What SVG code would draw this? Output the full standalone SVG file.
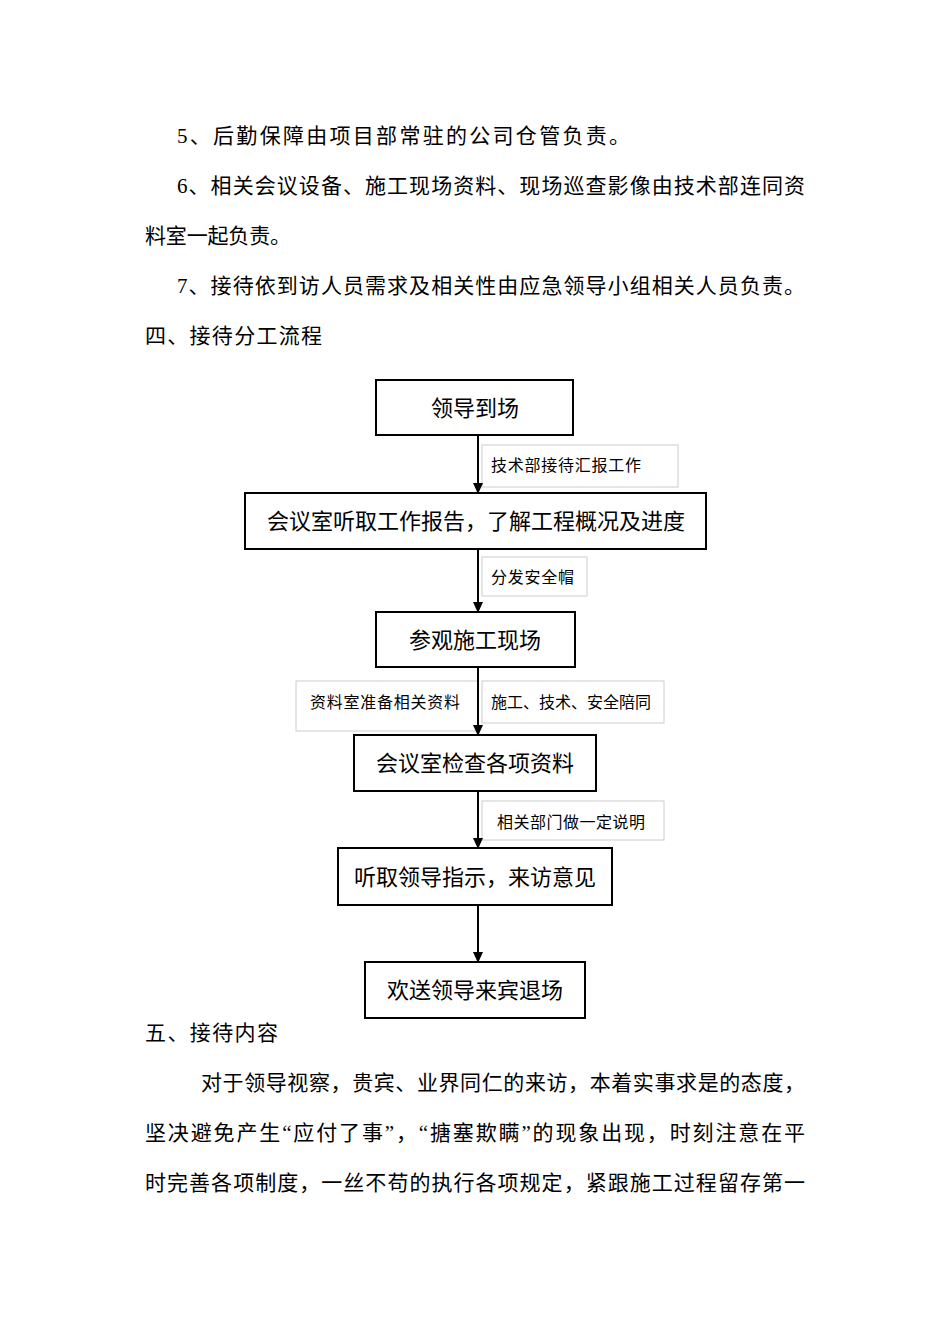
<svg xmlns="http://www.w3.org/2000/svg" width="950" height="1344" viewBox="0 0 950 1344">
<style>
text{font-family:"Liberation Serif","Noto Sans CJK SC",serif;fill:#000}
.b{font-size:21px}
.n rect{fill:#fff;stroke:#000;stroke-width:2}
.n text{font-size:22px;text-anchor:middle}
.l rect{fill:#fff;stroke:#ccc;stroke-width:1}
.l text{font-size:16px}
.c line{stroke:#000;stroke-width:2;marker-end:url(#a)}
</style>
<defs><marker id="a" markerWidth="12" markerHeight="12" refX="10" refY="5" orient="auto" markerUnits="userSpaceOnUse"><path d="M0,0L11,5L0,10z" fill="#000"/></marker></defs>
<rect width="950" height="1344" fill="#fff"/>
<text class="b" x="177" y="143" textLength="453" lengthAdjust="spacing">5、后勤保障由项目部常驻的公司仓管负责。</text>
<text class="b" x="177" y="193" textLength="628" lengthAdjust="spacing">6、相关会议设备、施工现场资料、现场巡查影像由技术部连同资</text>
<text class="b" x="145" y="243" textLength="146" lengthAdjust="spacing">料室一起负责。</text>
<text class="b" x="177" y="293" textLength="628" lengthAdjust="spacing">7、接待依到访人员需求及相关性由应急领导小组相关人员负责。</text>
<text class="b" x="145" y="343" textLength="177" lengthAdjust="spacing">四、接待分工流程</text>
<g id="labels" class="l">
<g id="l1"><rect x="482" y="445" width="196" height="42"/><text x="491" y="471" textLength="150" lengthAdjust="spacing">技术部接待汇报工作</text></g>
<g id="l2"><rect x="482" y="557" width="105" height="39"/><text x="491" y="583" textLength="83" lengthAdjust="spacing">分发安全帽</text></g>
<g id="l3a"><rect x="296" y="681" width="182" height="50"/><text x="310" y="708" textLength="150" lengthAdjust="spacing">资料室准备相关资料</text></g>
<g id="l3b"><rect x="482" y="681" width="182" height="42"/><text x="491" y="708" textLength="160" lengthAdjust="spacing">施工、技术、安全陪同</text></g>
<g id="l4"><rect x="482" y="801" width="182" height="39"/><text x="497" y="828" textLength="148" lengthAdjust="spacing">相关部门做一定说明</text></g>
</g>
<g class="c" id="connectors">
<line x1="478" y1="435" x2="478" y2="493"/>
<line x1="478" y1="549" x2="478" y2="612"/>
<line x1="478" y1="667" x2="478" y2="735"/>
<line x1="478" y1="791" x2="478" y2="848"/>
<line x1="478" y1="905" x2="478" y2="962"/>
</g>
<g id="n1" class="n"><rect x="376" y="380" width="197" height="55"/><text x="475" y="416">领导到场</text></g>
<g id="n2" class="n"><rect x="245" y="493" width="461" height="56"/><text x="476" y="529">会议室听取工作报告，了解工程概况及进度</text></g>
<g id="n3" class="n"><rect x="376" y="612" width="199" height="55"/><text x="475" y="648">参观施工现场</text></g>
<g id="n4" class="n"><rect x="354" y="735" width="242" height="56"/><text x="475" y="771">会议室检查各项资料</text></g>
<g id="n5" class="n"><rect x="338" y="848" width="274" height="57"/><text x="475" y="885">听取领导指示，来访意见</text></g>
<g id="n6" class="n"><rect x="365" y="962" width="220" height="56"/><text x="475" y="998">欢送领导来宾退场</text></g>
<text class="b" x="145" y="1040" textLength="133" lengthAdjust="spacing">五、接待内容</text>
<text class="b" x="201" y="1090" textLength="604" lengthAdjust="spacing">对于领导视察，贵宾、业界同仁的来访，本着实事求是的态度，</text>
<text class="b" x="145" y="1140" textLength="660" lengthAdjust="spacing">坚决避免产生“应付了事”，“搪塞欺瞒”的现象出现，时刻注意在平</text>
<text class="b" x="145" y="1190" textLength="660" lengthAdjust="spacing">时完善各项制度，一丝不苟的执行各项规定，紧跟施工过程留存第一</text>
</svg>
